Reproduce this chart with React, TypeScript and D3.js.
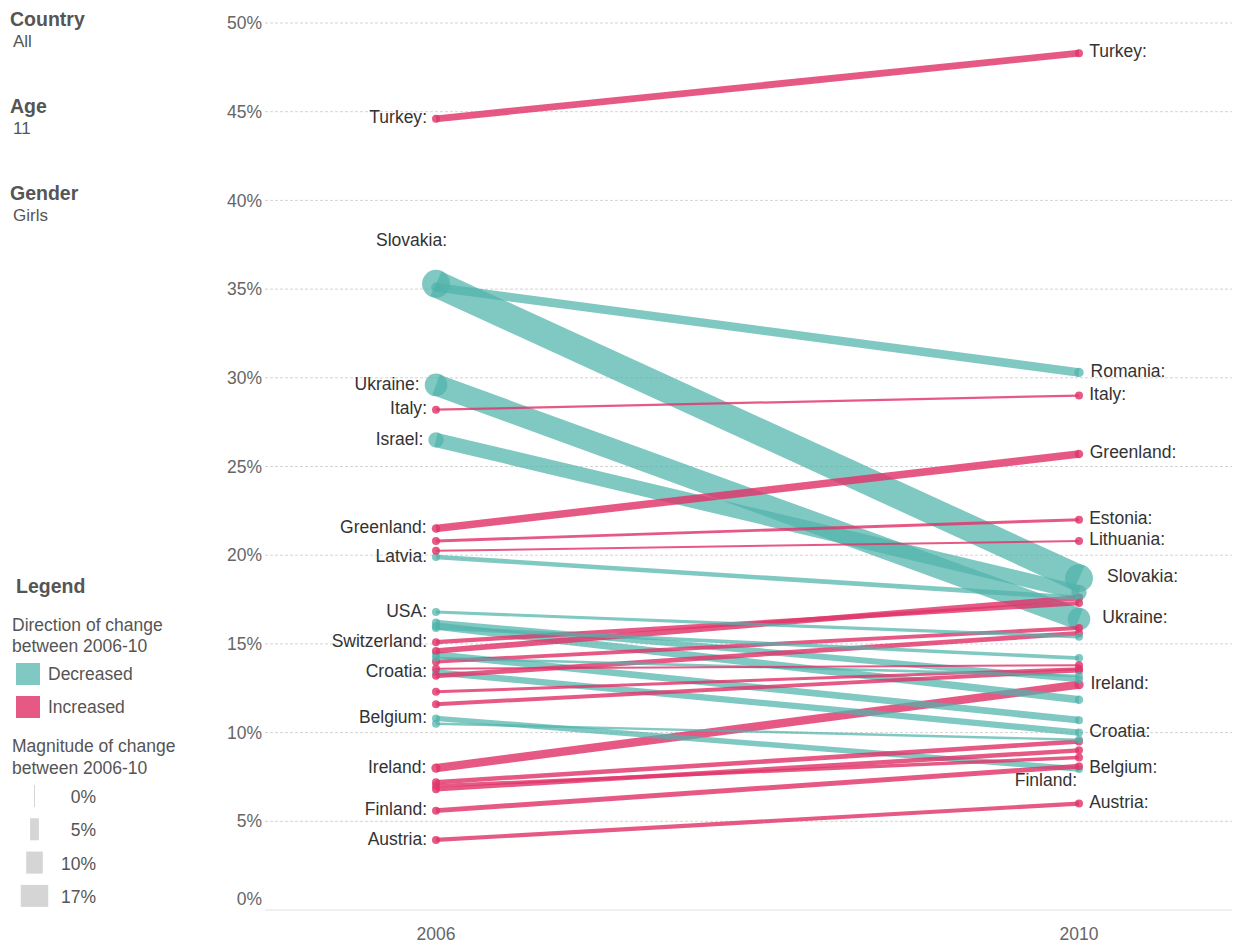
import React from "react";
import * as d3 from "d3";

const years = ["2006", "2010"];
const countries = [
  "Turkey", "Slovakia", "Romania", "Ukraine", "Italy", "Israel", "Greenland", "Estonia",
  "Lithuania", "Latvia", "USA", "England", "Canada", "Czech Republic", "Hungary", "Denmark",
  "Croatia", "Belgium", "France", "Switzerland", "Poland", "Spain", "Norway", "Wales",
  "Germany", "Scotland", "Ireland", "Portugal", "Slovenia", "Luxembourg", "Finland", "Austria",
];
const values2006 = [
  44.6, 35.3, 35.1, 29.6, 28.2, 26.5, 21.5, 20.8,
  20.25, 19.9, 16.8, 16.2, 16.0, 15.9, 14.4, 14.2,
  13.4, 10.8, 10.5, 15.1, 14.6, 14.0, 13.6, 13.2,
  12.3, 11.6, 8.0, 7.2, 6.8, 7.0, 5.6, 3.95,
];
const values2010 = [
  48.3, 18.7, 30.3, 16.4, 29.0, 17.9, 25.7, 22.0,
  20.8, 17.6, 15.4, 13.0, 11.85, 14.2, 10.7, 13.2,
  10.0, 7.95, 9.6, 17.3, 17.6, 15.9, 13.8, 15.6,
  13.6, 13.5, 12.7, 9.5, 9.0, 8.6, 8.1, 6.0,
];
const labels2006 = ["Turkey", "Slovakia", "Ukraine", "Italy", "Israel", "Greenland", "Latvia", "USA", "Switzerland", "Croatia", "Belgium", "Ireland", "Finland", "Austria"];
const labels2010 = ["Turkey", "Romania", "Italy", "Greenland", "Estonia", "Lithuania", "Slovakia", "Ukraine", "Ireland", "Croatia", "Belgium", "Finland", "Austria"];
const yTicks = [0, 5, 10, 15, 20, 25, 30, 35, 40, 45, 50];
const filters = [
  { title: "Country", value: "All" },
  { title: "Age", value: "11" },
  { title: "Gender", value: "Girls" },
];
const directionItems = ["Decreased", "Increased"];
const magnitudeItems = [0, 5, 10, 17];

const TEAL = "#4fb3aa";
const RED = "#e0356a";
const FONT = "'Liberation Sans', Arial, sans-serif";
const FS = 17.5;

export default function App() {
  const y = d3.scaleLinear().domain([0, 50]).range([910, 23]);
  const x = d3.scalePoint().domain(years).range([436, 1079]);
  const wScale = d3.scaleLinear().domain([0, 17]).range([1, 27.5]);
  const x0 = x("2006")!;
  const x1 = x("2010")!;

  const rows = countries.map((name, i) => {
    const a = values2006[i];
    const b = values2010[i];
    const d = Math.abs(b - a);
    const w = Math.max(2, wScale(d));
    const r = Math.max(4, w / 2 + 0.5);
    return { name, a, b, w, r, inc: b > a };
  });
  const drawOrder = [...rows].sort((p, q) => q.w - p.w);
  const line = d3.line<[number, number]>();

  return (
    <svg width={1236} height={945} style={{ position: "absolute", left: 0, top: 0, background: "#fff" }} fontFamily={FONT}>
      {/* filters */}
      {filters.map((f, i) => (
        <g key={f.title} transform={`translate(0, ${i * 87})`}>
          <text x={10} y={26} fontSize={19.5} fontWeight="bold" fill="#555">{f.title}</text>
          <text x={13} y={47} fontSize={17} fill="#555">{f.value}</text>
        </g>
      ))}

      {/* grid */}
      {yTicks.map((t) => (
        <g key={t}>
          <line x1={265} x2={1232} y1={y(t)} y2={y(t)} stroke={t === 0 ? "#e0e0e0" : "#d4d4d4"} strokeDasharray={t === 0 ? undefined : "3,2"} strokeWidth={1} />
          <text x={262} y={t === 0 ? y(t) - 11 : y(t)} dy="0.35em" textAnchor="end" fontSize={FS} fill="#666">{t}%</text>
        </g>
      ))}
      {years.map((yr) => (
        <text key={yr} x={x(yr)} y={940} textAnchor="middle" fontSize={FS} fill="#666">{yr}</text>
      ))}

      {/* lines */}
      {drawOrder.map((r) => {
        const c = r.inc ? RED : TEAL;
        const op = r.inc ? 0.82 : 0.72;
        return (
          <g key={r.name}>
            <path d={line([[x0, y(r.a)], [x1, y(r.b)]]) || ""} stroke={c} strokeOpacity={op} strokeWidth={r.w} fill="none" />
            <circle cx={x0} cy={y(r.a)} r={r.r} fill={c} fillOpacity={op} />
            <circle cx={x1} cy={y(r.b)} r={r.r} fill={c} fillOpacity={op} />
          </g>
        );
      })}

      {/* labels */}
      {rows.filter((r) => labels2006.includes(r.name)).map((r) => {
        const special = r.name === "Slovakia";
        return (
          <text key={"a" + r.name} x={special ? x0 + 11 : x0 - r.r - 5} y={special ? y(r.a) - 44 : y(r.a) - 1.5} dy="0.35em" textAnchor="end" fontSize={FS} fill="#333">{r.name}:</text>
        );
      })}
      {rows.filter((r) => labels2010.includes(r.name)).map((r) => {
        const special = r.name === "Finland";
        return (
          <text key={"b" + r.name} x={special ? x1 - 2 : x1 + r.r * 1.8 + 3} y={special ? y(r.b) + 14 : y(r.b) - 2} dy="0.35em" textAnchor={special ? "end" : "start"} fontSize={FS} fill="#333">{r.name}:</text>
        );
      })}

      {/* legend */}
      <text x={16} y={593} fontSize={19.5} fontWeight="bold" fill="#555">Legend</text>
      <text x={12} y={631} fontSize={FS} fill="#555">Direction of change</text>
      <text x={12} y={652} fontSize={FS} fill="#555">between 2006-10</text>
      {directionItems.map((d, i) => (
        <g key={d} transform={`translate(0, ${i * 33})`}>
          <rect x={16} y={663} width={24} height={22} fill={i === 0 ? TEAL : RED} fillOpacity={i === 0 ? 0.72 : 0.82} />
          <text x={48} y={674} dy="0.35em" fontSize={FS} fill="#555">{d}</text>
        </g>
      ))}
      <text x={12} y={752} fontSize={FS} fill="#555">Magnitude of change</text>
      <text x={12} y={774} fontSize={FS} fill="#555">between 2006-10</text>
      {magnitudeItems.map((m, i) => {
        const w = wScale(m);
        return (
          <g key={m} transform={`translate(0, ${i * 33.3})`}>
            <rect x={34.5 - w / 2} y={785} width={w} height={22} fill="#d5d5d5" />
            <text x={96} y={797} dy="0.35em" textAnchor="end" fontSize={FS} fill="#555">{m}%</text>
          </g>
        );
      })}
    </svg>
  );
}
